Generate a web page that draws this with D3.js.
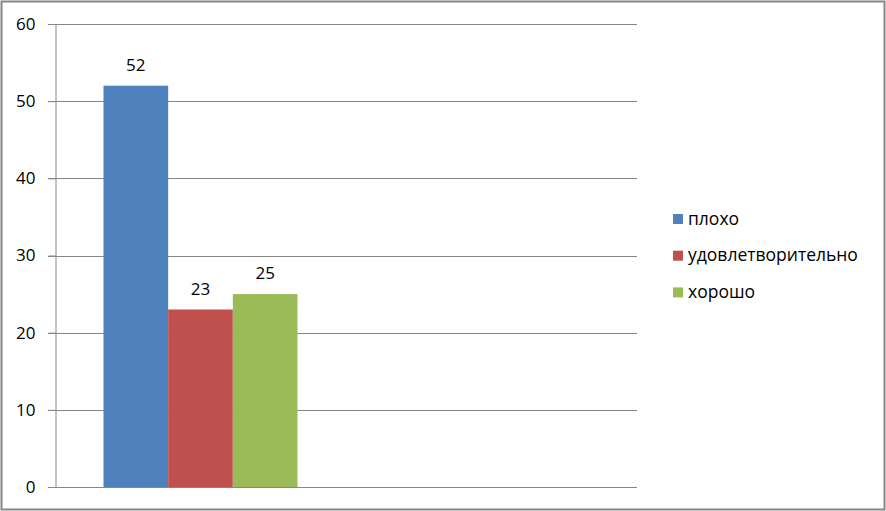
<!DOCTYPE html>
<html>
<head>
<meta charset="utf-8">
<script src="https://cdn.jsdelivr.net/npm/d3@7"></script>
<style>
  body { margin: 0; background: #fff; }
  svg text { font-family: "Open Sans", "Liberation Sans", sans-serif; fill: #000; }
</style>
</head>
<body>
<div id="chart"></div>
<script>
// data
var categories = ["1", "2"];                                  // second group is empty
var seriesNames = ["плохо", "удовлетворительно", "хорошо"];
var seriesColors = ["#4F81BD", "#C0504D", "#9BBB59"];
var valuesGroup1 = [52, 23, 25];
var valuesGroup2 = [null, null, null];
var yTicks = [0, 10, 20, 30, 40, 50, 60];

var w = 886, h = 511;
var plot = { left: 55, right: 637, top: 24, bottom: 487 };

var svg = d3.select("#chart").append("svg")
	.attr("width", w)
	.attr("height", h);

// outer frame
svg.append("rect")
	.attr("x", 1.5).attr("y", 1.5)
	.attr("width", w - 3).attr("height", h - 3)
	.style("fill", "white")
	.style("stroke", "#868686")
	.style("stroke-width", 2);

var y = d3.scaleLinear().domain([0, 60]).range([plot.bottom, plot.top]);

// excel style: gap width 150% between groups
var x0 = d3.scaleBand().domain(categories).range([plot.left, plot.right]);
var gap = 1.5;
var barW = x0.bandwidth() / (seriesNames.length + gap);
var x1 = d3.scaleBand().domain(seriesNames)
	.range([0, barW * seriesNames.length]);

// gridlines
svg.append("g")
	.selectAll("line")
	.data(yTicks)
	.enter().append("line")
	.attr("x1", plot.left - 7)
	.attr("x2", plot.right)
	.attr("y1", function(d) { return Math.round(y(d)) + 0.5; })
	.attr("y2", function(d) { return Math.round(y(d)) + 0.5; })
	.style("stroke", "#868686")
	.style("stroke-width", 1);

// y axis
var yAxis = svg.append("g")
	.attr("transform", "translate(" + (plot.left + 0.5) + ",0)")
	.call(d3.axisLeft(y).tickValues(yTicks).tickSize(7).tickPadding(13));
yAxis.select(".domain").style("stroke", "#868686");
yAxis.selectAll(".tick line").style("stroke", "#868686");
yAxis.selectAll("text")
	.style("font-size", "17px")
	.style("font-family", "'Open Sans', sans-serif");

// bars
var groups = [valuesGroup1, valuesGroup2];
var barData = [];
groups.forEach(function(vals, gi) {
	vals.forEach(function(v, si) {
		if (v != null) barData.push({ cat: categories[gi], name: seriesNames[si], value: v, color: seriesColors[si] });
	});
});

var bars = svg.append("g");
bars.selectAll("rect")
	.data(barData)
	.enter().append("rect")
	.attr("x", function(d) { return x0(d.cat) + barW * gap / 2 + x1(d.name); })
	.attr("y", function(d) { return y(d.value); })
	.attr("width", x1.bandwidth())
	.attr("height", function(d) { return y(0) - y(d.value); })
	.style("fill", function(d) { return d.color; });

// value labels
bars.selectAll("text")
	.data(barData)
	.enter().append("text")
	.attr("x", function(d) { return x0(d.cat) + barW * gap / 2 + x1(d.name) + x1.bandwidth() / 2; })
	.attr("y", function(d) { return y(d.value) - 15; })
	.attr("text-anchor", "middle")
	.style("font-size", "17px")
	.text(function(d) { return d.value; });

// legend
var legend = svg.append("g")
	.selectAll("g")
	.data(seriesNames)
	.enter().append("g")
	.attr("transform", function(d, i) { return "translate(673," + (219 + i * 36.7) + ")"; });

legend.append("rect")
	.attr("x", 0).attr("y", -5)
	.attr("width", 10).attr("height", 10)
	.style("fill", function(d, i) { return seriesColors[i]; });

legend.append("text")
	.attr("x", 15)
	.attr("y", 5.5)
	.style("font-size", "17.5px")
	.text(function(d) { return d; });
</script>
</body>
</html>
